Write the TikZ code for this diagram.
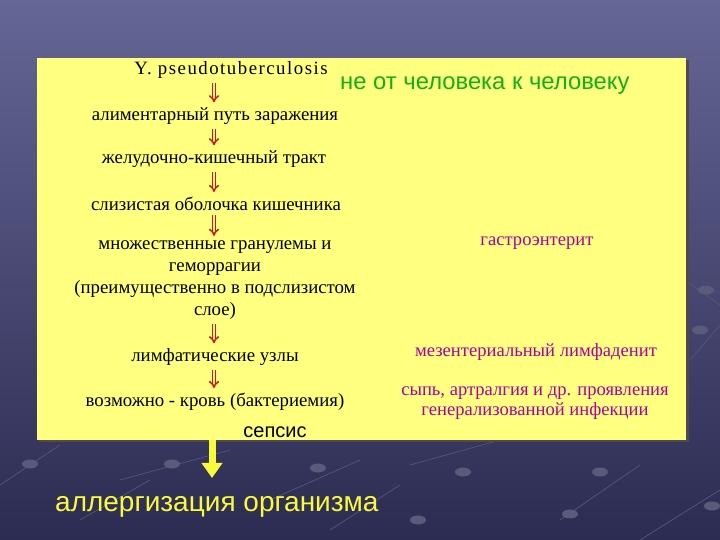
\documentclass[tikz,border=0pt]{standalone}
\usepackage{fontspec}
\setmainfont{Liberation Serif}
\setsansfont{Liberation Sans}
\usetikzlibrary{arrows.meta}
\definecolor{bgtop}{RGB}{102,102,150}
\definecolor{bgbot}{RGB}{44,44,82}
\definecolor{boxyellow}{RGB}{255,255,128}
\definecolor{arrred}{RGB}{210,20,20}
\definecolor{greentxt}{RGB}{20,175,20}
\definecolor{magtxt}{RGB}{175,0,160}
\definecolor{allyellow}{RGB}{250,250,60}
\definecolor{dotcol}{RGB}{90,90,122}
\begin{document}
\begin{tikzpicture}[x=1pt,y=1pt,
  stepnode/.style={inner sep=0pt, font=\fontsize{18.8}{22}\selectfont, align=center, text=black},
  sidenode/.style={inner sep=0pt, font=\fontsize{18.6}{20}\selectfont, align=center, text=magtxt},
  redarrow/.style={draw=arrred, double=boxyellow, double distance=1.8pt, line width=1.5pt, -{Implies[]}, shorten <=4pt, shorten >=5pt},
  bigarrow/.style={draw=allyellow, line width=7pt, -{Triangle[width=20pt,length=15pt]}},
  bgdot/.style={fill=dotcol, draw=none},
  bgline/.style={draw=dotcol, line width=0.6pt}]
% background
\shade[top color=bgtop, bottom color=bgbot] (0,0) rectangle (720,540);
\useasboundingbox (0,0) rectangle (720,540);
\foreach \x/\y in {30/76,172/76,318/72,463/68,600/68,418/20,570/26,712/34,700/210,706/250}
  \fill[bgdot] (\x,\y) ellipse (8pt and 4.5pt);
\draw[bgline] (0,55) -- (60,95) (120,60) -- (230,90) (270,40) -- (360,80) (410,75) -- (500,100)
  (80,20) -- (150,60) (330,10) -- (400,55) (560,20) -- (640,75) (640,0) -- (720,50)
  (690,180) -- (720,215) (685,260) -- (720,235);
% yellow box with shadow
\fill[black!70] (39,98) rectangle (689,480);
\node[fill=boxyellow, minimum width=649pt, minimum height=382pt, inner sep=0pt, anchor=north west] (box) at (37,482) {};
% flow
\node[stepnode, font=\fontsize{18.8}{22}\selectfont\addfontfeature{LetterSpace=8}] (s1) at (231,470) {Y. pseudotuberculosis};
\node[stepnode] (s2) at (215,424) {алиментарный путь заражения};
\node[stepnode] (s3) at (214,381) {желудочно-кишечный тракт};
\node[stepnode] (s4) at (216,336) {слизистая оболочка кишечника};
\node[stepnode] (s5) at (215,259.5) {множественные гранулемы и\\ геморрагии\\ (преимущественно в подслизистом\\ слое)};
\node[stepnode] (s6) at (215,183) {лимфатические узлы};
\node[stepnode] (s7) at (215,138) {возможно - кровь (бактериемия)};
\node[inner sep=0pt, font=\sffamily\fontsize{20}{22}\selectfont] (sep) at (275,108) {сепсис};
\draw[redarrow] (s1.south -| 214,0) -- (s2.north -| 214,0);
\draw[redarrow] (s2.south -| 214,0) -- (s3.north -| 214,0);
\draw[redarrow] (s3.south -| 214,0) -- (s4.north -| 214,0);
\draw[redarrow] (s4.south -| 214,0) -- (s5.north -| 214,0);
\draw[redarrow] (s5.south -| 214,0) -- (s6.north -| 214,0);
\draw[redarrow] (s6.south -| 214,0) -- (s7.north -| 214,0);
% right side
\node[inner sep=0pt, font=\sffamily\fontsize{23.8}{26}\selectfont, text=greentxt, anchor=west] (hum) at (340,454) {не от человека к человеку};
\node[sidenode] (g1) at (537,297) {гастроэнтерит};
\node[sidenode] (g2) at (536,188) {мезентериальный лимфаденит};
\node[sidenode] (g3) at (535,137) {сыпь, артралгия и др. проявления\\ генерализованной инфекции};
% bottom
\node[inner sep=0pt, font=\sffamily\fontsize{28}{30}\selectfont, text=allyellow, anchor=west] (all) at (55,33) {аллергизация организма};
\draw[bigarrow] (box.south -| 212,0) -- (212,62);
\end{tikzpicture}
\end{document}
